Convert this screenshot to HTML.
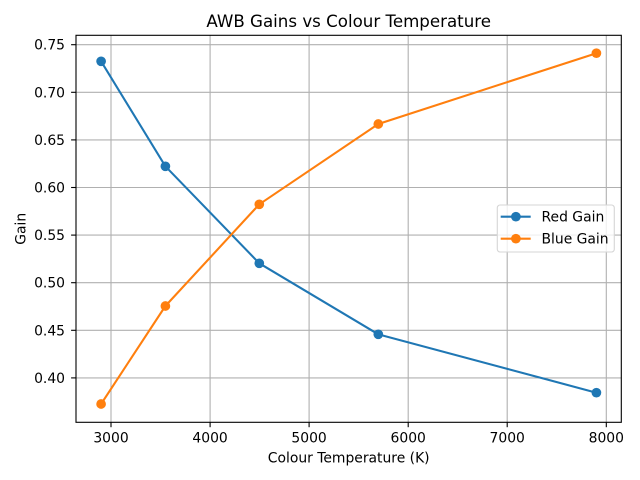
<!DOCTYPE html>
<html><head><meta charset="utf-8"><style>
html,body{margin:0;padding:0;background:#fff;}
svg{display:block;}
text{font-family:"DejaVu Sans","Liberation Sans",sans-serif;fill:#000;}
</style></head><body>
<svg width="640" height="480" viewBox="0 0 640 480" xmlns="http://www.w3.org/2000/svg">
<rect width="640" height="480" fill="#fff"/>
<!-- grid -->
<g stroke="#b0b0b0" stroke-width="1.1">
<line x1="111.0" y1="35.3" x2="111.0" y2="422.3"/>
<line x1="210.1" y1="35.3" x2="210.1" y2="422.3"/>
<line x1="309.1" y1="35.3" x2="309.1" y2="422.3"/>
<line x1="408.2" y1="35.3" x2="408.2" y2="422.3"/>
<line x1="507.2" y1="35.3" x2="507.2" y2="422.3"/>
<line x1="606.3" y1="35.3" x2="606.3" y2="422.3"/>
<line x1="76" y1="44.7" x2="621.3" y2="44.7"/>
<line x1="76" y1="92.3" x2="621.3" y2="92.3"/>
<line x1="76" y1="139.9" x2="621.3" y2="139.9"/>
<line x1="76" y1="187.5" x2="621.3" y2="187.5"/>
<line x1="76" y1="235.1" x2="621.3" y2="235.1"/>
<line x1="76" y1="282.7" x2="621.3" y2="282.7"/>
<line x1="76" y1="330.3" x2="621.3" y2="330.3"/>
<line x1="76" y1="377.9" x2="621.3" y2="377.9"/>
</g>
<!-- series -->
<polyline fill="none" stroke="#1f77b4" stroke-width="2.08" stroke-linejoin="round" points="101.1,61.3 165.4,166.3 259.3,263.3 378.3,334.3 596.4,392.7"/>
<g fill="#1f77b4">
<circle cx="101.1" cy="61.3" r="4.85"/><circle cx="165.4" cy="166.3" r="4.85"/><circle cx="259.3" cy="263.3" r="4.85"/><circle cx="378.3" cy="334.3" r="4.85"/><circle cx="596.4" cy="392.7" r="4.85"/>
</g>
<polyline fill="none" stroke="#ff7f0e" stroke-width="2.08" stroke-linejoin="round" points="101.1,404 165.4,306 259.3,204.3 378.3,124 596.4,53.2"/>
<g fill="#ff7f0e">
<circle cx="101.1" cy="404" r="4.85"/><circle cx="165.4" cy="306" r="4.85"/><circle cx="259.3" cy="204.3" r="4.85"/><circle cx="378.3" cy="124" r="4.85"/><circle cx="596.4" cy="53.2" r="4.85"/>
</g>
<!-- spines -->
<rect x="76" y="35.3" width="545.3" height="387" fill="none" stroke="#000" stroke-width="1.1"/>
<!-- ticks -->
<g stroke="#000" stroke-width="1.1">
<line x1="111.0" y1="422.3" x2="111.0" y2="427.2"/>
<line x1="210.1" y1="422.3" x2="210.1" y2="427.2"/>
<line x1="309.1" y1="422.3" x2="309.1" y2="427.2"/>
<line x1="408.2" y1="422.3" x2="408.2" y2="427.2"/>
<line x1="507.2" y1="422.3" x2="507.2" y2="427.2"/>
<line x1="606.3" y1="422.3" x2="606.3" y2="427.2"/>
<line x1="71.1" y1="44.7" x2="76" y2="44.7"/>
<line x1="71.1" y1="92.3" x2="76" y2="92.3"/>
<line x1="71.1" y1="139.9" x2="76" y2="139.9"/>
<line x1="71.1" y1="187.5" x2="76" y2="187.5"/>
<line x1="71.1" y1="235.1" x2="76" y2="235.1"/>
<line x1="71.1" y1="282.7" x2="76" y2="282.7"/>
<line x1="71.1" y1="330.3" x2="76" y2="330.3"/>
<line x1="71.1" y1="377.9" x2="76" y2="377.9"/>
</g>
<g font-size="13.9" text-anchor="middle">
<text x="111.0" y="442.5">3000</text>
<text x="210.1" y="442.5">4000</text>
<text x="309.1" y="442.5">5000</text>
<text x="408.2" y="442.5">6000</text>
<text x="507.2" y="442.5">7000</text>
<text x="606.3" y="442.5">8000</text>
</g>
<g font-size="13.9" text-anchor="end">
<text x="65" y="49.7">0.75</text>
<text x="65" y="97.3">0.70</text>
<text x="65" y="144.9">0.65</text>
<text x="65" y="192.5">0.60</text>
<text x="65" y="240.1">0.55</text>
<text x="65" y="287.7">0.50</text>
<text x="65" y="335.3">0.45</text>
<text x="65" y="382.9">0.40</text>
</g>
<text x="348.7" y="462.3" font-size="13.9" text-anchor="middle">Colour Temperature (K)</text>
<text transform="translate(25.5,228.8) rotate(-90)" font-size="13.9" text-anchor="middle">Gain</text>
<text x="348.7" y="27.2" font-size="16.67" text-anchor="middle">AWB Gains vs Colour Temperature</text>
<!-- legend -->
<rect x="497.3" y="205" width="117" height="47" rx="2.8" fill="#fff" fill-opacity="0.8" stroke="#d6d6d6" stroke-width="1.1"/>
<line x1="500.7" y1="216.7" x2="530.7" y2="216.7" stroke="#1f77b4" stroke-width="2.08"/>
<circle cx="515.9" cy="216.7" r="4.85" fill="#1f77b4"/>
<line x1="500.7" y1="238.7" x2="530.7" y2="238.7" stroke="#ff7f0e" stroke-width="2.08"/>
<circle cx="515.9" cy="238.7" r="4.85" fill="#ff7f0e"/>
<text x="541.5" y="221.7" font-size="13.9">Red Gain</text>
<text x="541.5" y="243.7" font-size="13.9">Blue Gain</text>
</svg>
</body></html>
